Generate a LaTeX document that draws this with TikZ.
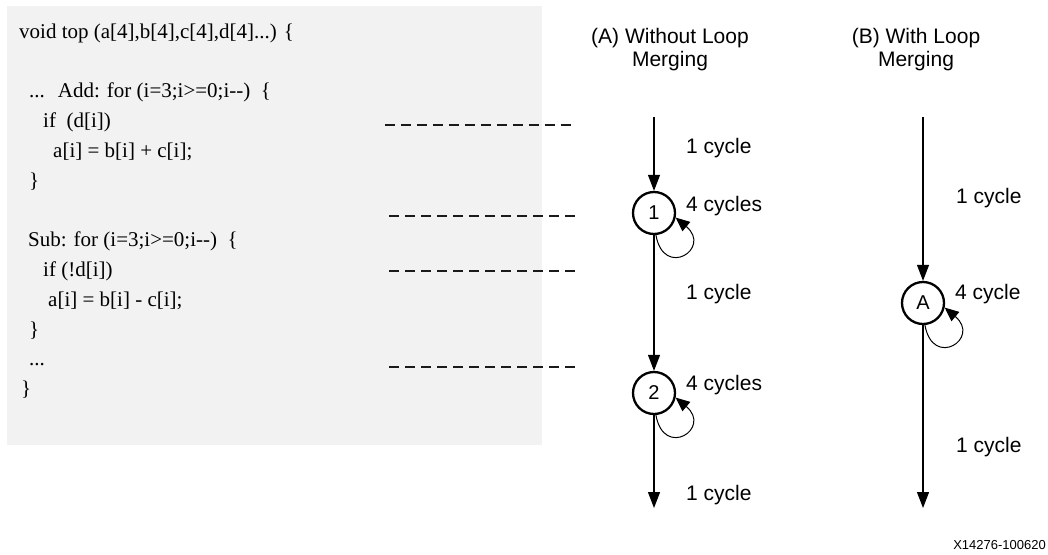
\documentclass[tikz,border=0pt]{standalone}
\usepackage{fontspec}
\setmainfont{Liberation Sans}
\newfontfamily\codefont{Liberation Serif}
\usetikzlibrary{arrows.meta, positioning}
\definecolor{mgpanel}{HTML}{F2F2F2}
\definecolor{mgdash}{HTML}{1A1A1A}

\begin{document}
\begin{tikzpicture}[
  x=1pt, y=1pt,
  every node/.style={font=\fontsize{21}{23}\selectfont, inner sep=0pt},
  codeline/.style={anchor=base west, font=\codefont\fontsize{21}{24}\selectfont},
  stage/.style={circle, draw, line width=2.3pt, minimum size=42pt, font=\fontsize{20}{24}\selectfont},
  flow/.style={line width=1.2pt, -{Triangle[length=16pt, width=12pt]}},
  selfloop/.style={line width=1pt, -{Triangle[length=14pt, width=12pt]}},
  cyc/.style={anchor=west},
  cut/.style={line width=1.4pt, mgdash, dash pattern=on 10pt off 6pt},
]
\useasboundingbox (0,0) rectangle (1048,-554);

% Code panel
\fill[mgpanel] (7,-6) rectangle (542,-445);
\node[codeline] (ln1) at (19,-38) {void top (a[4],b[4],c[4],d[4]...) \{};
\node[codeline] (ln2) at (29,-97.6) {...\hspace{13pt}Add: for (i=3;i>=0;i-\kern0pt-)\ \ \{};
\node[codeline] (ln3) at (43,-127.4) {if\ \ (d[i])};
\node[codeline] (ln4) at (53,-157.2) {a[i] = b[i] + c[i];};
\node[codeline] (ln5) at (29,-187) {\}};
\node[codeline] (ln6) at (28,-246.6) {Sub: for (i=3;i>=0;i-\kern0pt-)\ \ \{};
\node[codeline] (ln7) at (43,-276.4) {if (!d[i])};
\node[codeline] (ln8) at (48,-306.2) {a[i] = b[i] - c[i];};
\node[codeline] (ln9) at (29,-336) {\}};
\node[codeline] (ln10) at (29,-365.8) {...};
\node[codeline] (ln11) at (21,-395.6) {\}};

% Cut lines
\draw[cut] (385,-125) -- (573,-125);
\draw[cut] (389,-216) -- (575,-216);
\draw[cut] (389,-271) -- (575,-271);
\draw[cut] (389,-367) -- (575,-367);

% Headers
\node[align=center] (hdrA) at (670,-50) {(A) Without Loop\\Merging};
\node[align=center] (hdrB) at (916,-50) {(B) With Loop\\Merging};

% (A) without merging
\coordinate (a0) at (654,-117);
\node[stage] (n1) at (654,-213) {1};
\node[stage] (n2) at (654,-393) {2};
\coordinate (a3) at (654,-508);
\draw[flow] (a0) -- (n1);
\draw[flow] (n1) -- (n2);
\draw[flow] (n2) -- (a3);
\draw[selfloop] (n1.-85) .. controls +(-80:45) and +(-40:48) .. (n1.-12);
\draw[selfloop] (n2.-85) .. controls +(-80:45) and +(-40:48) .. (n2.-12);
\node[cyc] (c1) at (686,-148) {1 cycle};
\node[cyc] (c2) at (686,-206) {4 cycles};
\node[cyc] (c3) at (686,-294) {1 cycle};
\node[cyc] (c4) at (686,-385) {4 cycles};
\node[cyc] (c5) at (686,-495) {1 cycle};

% (B) with merging
\coordinate (b0) at (923,-117);
\node[stage] (nA) at (923,-303) {A};
\coordinate (b2) at (923,-508);
\draw[flow] (b0) -- (nA);
\draw[flow] (nA) -- (b2);
\draw[selfloop] (nA.-85) .. controls +(-80:45) and +(-40:48) .. (nA.-12);
\node[cyc] (d1) at (956,-198) {1 cycle};
\node[cyc] (d2) at (955,-294) {4 cycle};
\node[cyc] (d3) at (956,-447) {1 cycle};

\node[anchor=east, font=\fontsize{13}{15}\selectfont] (tag) at (1046,-545) {X14276-100620};

\end{tikzpicture}
\end{document}
